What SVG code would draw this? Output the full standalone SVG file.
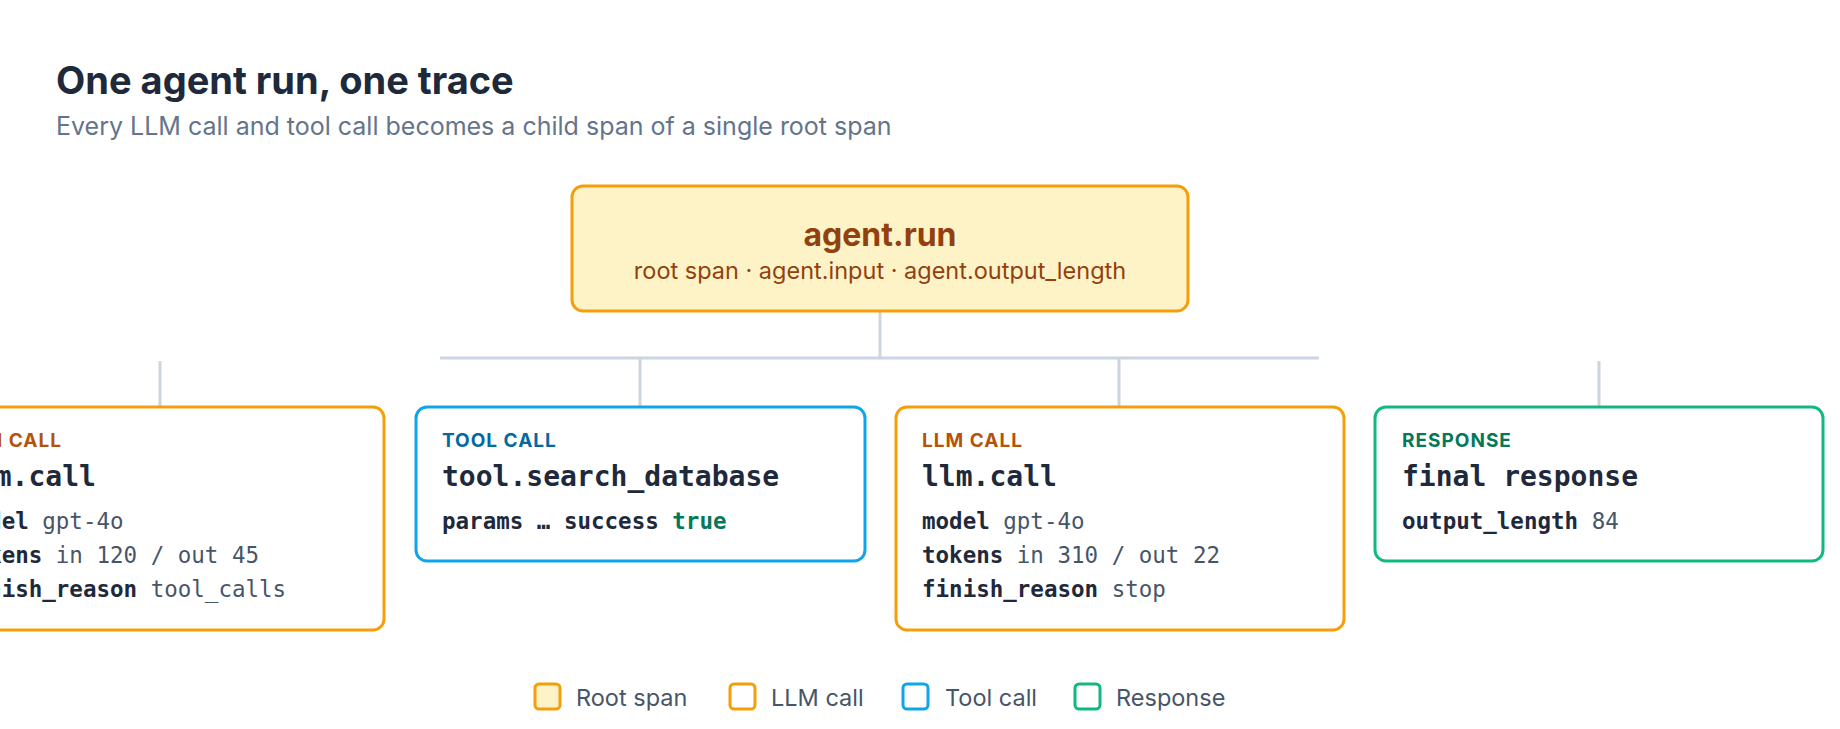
<svg xmlns="http://www.w3.org/2000/svg" width="1840" height="729" viewBox="0 0 1840 729">
<style>
.sans{font-family:Inter,"Noto Sans",sans-serif}
.box{fill:#fff;stroke-width:3}
.llm{stroke:#f59e0b}.tool{stroke:#0ea5e9}.resp{stroke:#10b981}
.lbl{font-family:Inter,"Noto Sans",sans-serif;font-size:19px;font-weight:700;letter-spacing:1px}
.ttl{font-family:"DejaVu Sans Mono",monospace;font-size:28px;font-weight:700;fill:#1e293b}
.ln{font-family:"DejaVu Sans Mono",monospace;font-size:22.5px;fill:#475569}
.k{font-weight:700;fill:#1e293b}
.conn{stroke:#cbd5e1;stroke-width:3;fill:none}
.leg{font-family:Inter,"Noto Sans",sans-serif;font-size:23.5px;fill:#475569}
</style>
<rect width="1840" height="729" fill="#fff"/>
<text x="56" y="94" class="sans" font-size="38" font-weight="700" fill="#1e293b">One agent run, one trace</text>
<text x="56" y="135" class="sans" font-size="25" fill="#64748b">Every LLM call and tool call becomes a child span of a single root span</text>
<g id="connectors">
<path class="conn" d="M880 311V358M440 358H1319M640 358V407M1119 358V407M160 361V407M1599 361V407"/>
</g>
<g id="root">
<rect x="572" y="186" width="616" height="125" rx="11" fill="#fef3c7" stroke="#f59e0b" stroke-width="3"/>
<text x="880" y="246" text-anchor="middle" class="sans" font-size="32" font-weight="700" fill="#92400e">agent.run</text>
<text x="880" y="279" text-anchor="middle" class="sans" font-size="23.5" fill="#92400e">root span · agent.input · agent.output_length</text>
</g>
<g id="llm1">
<rect class="box llm" x="-65" y="407" width="449" height="223" rx="11"/>
<text x="-39" y="447" class="lbl" fill="#b45309">LLM CALL</text>
<text x="-39" y="486" class="ttl">llm.call</text>
<text x="-39" y="529" class="ln"><tspan class="k">model</tspan> gpt-4o</text>
<text x="-39" y="563" class="ln"><tspan class="k">tokens</tspan> in 120 / out 45</text>
<text x="-39" y="597" class="ln"><tspan class="k">finish_reason</tspan> tool_calls</text>
</g>
<g id="tool">
<rect class="box tool" x="416" y="407" width="449" height="154" rx="11"/>
<text x="442" y="447" class="lbl" fill="#0369a1">TOOL CALL</text>
<text x="442" y="486" class="ttl">tool.search_database</text>
<text x="442" y="529" class="ln"><tspan class="k">params … success</tspan> <tspan font-weight="700" fill="#047857">true</tspan></text>
</g>
<g id="llm2">
<rect class="box llm" x="896" y="407" width="448" height="223" rx="11"/>
<text x="922" y="447" class="lbl" fill="#b45309">LLM CALL</text>
<text x="922" y="486" class="ttl">llm.call</text>
<text x="922" y="529" class="ln"><tspan class="k">model</tspan> gpt-4o</text>
<text x="922" y="563" class="ln"><tspan class="k">tokens</tspan> in 310 / out 22</text>
<text x="922" y="597" class="ln"><tspan class="k">finish_reason</tspan> stop</text>
</g>
<g id="response">
<rect class="box resp" x="1375" y="407" width="448" height="154" rx="11"/>
<text x="1402" y="447" class="lbl" fill="#047857">RESPONSE</text>
<text x="1402" y="486" class="ttl">final response</text>
<text x="1402" y="529" class="ln"><tspan class="k">output_length</tspan> 84</text>
</g>
<g id="legend">
<rect x="535" y="684" width="25" height="25" rx="4" fill="#fef3c7" stroke="#f59e0b" stroke-width="3"/>
<text x="576" y="706" class="leg">Root span</text>
<rect x="730" y="684" width="25" height="25" rx="4" fill="#fff" stroke="#f59e0b" stroke-width="3"/>
<text x="771" y="706" class="leg">LLM call</text>
<rect x="903" y="684" width="25" height="25" rx="4" fill="#fff" stroke="#0ea5e9" stroke-width="3"/>
<text x="945" y="706" class="leg">Tool call</text>
<rect x="1075" y="684" width="25" height="25" rx="4" fill="#fff" stroke="#10b981" stroke-width="3"/>
<text x="1116" y="706" class="leg">Response</text>
</g>
</svg>
